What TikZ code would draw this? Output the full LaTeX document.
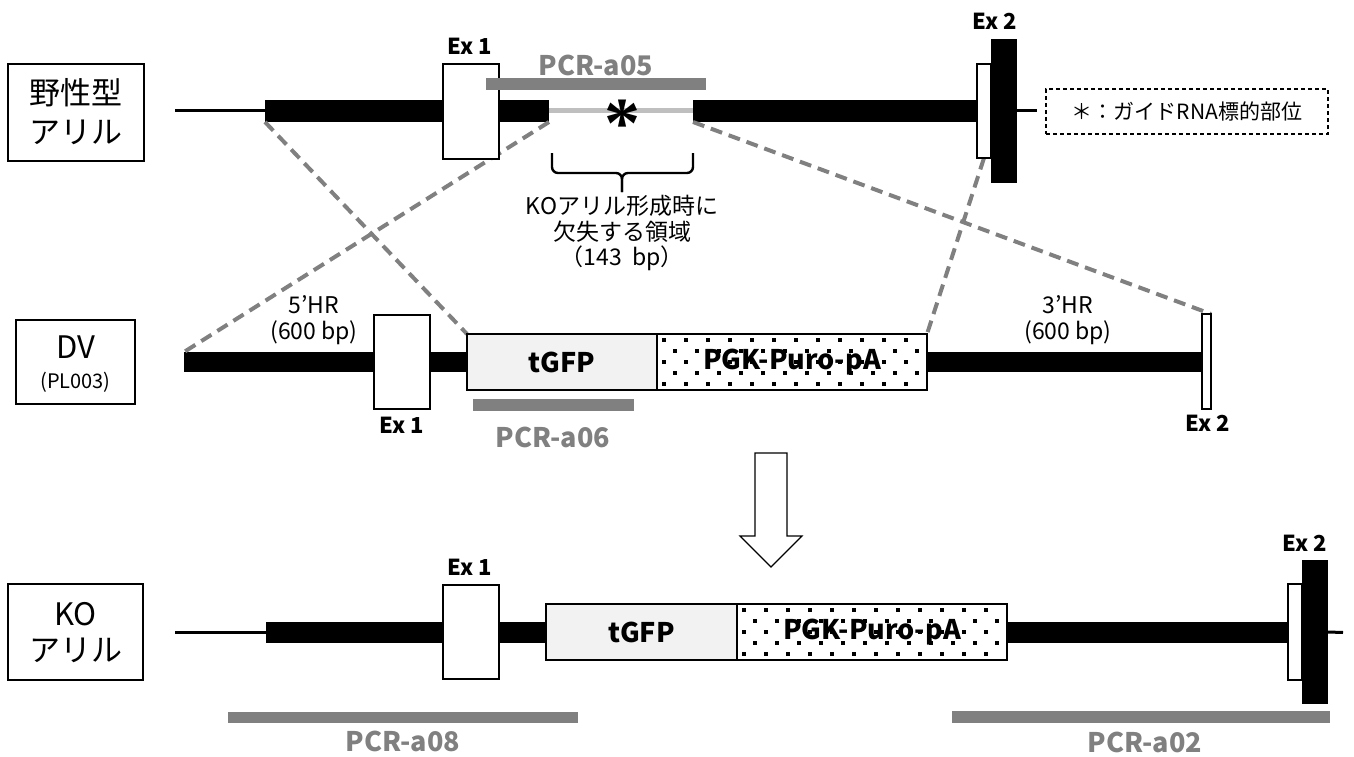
\documentclass[tikz,border=0pt]{standalone}
\usepackage{fontspec}
\setmainfont{Noto Sans CJK JP}
\newfontfamily\astfont{Liberation Serif}
\usetikzlibrary{fit}
\definecolor{pcrgray}{HTML}{808080}
\definecolor{delgray}{HTML}{BFBFBF}
\definecolor{gfpfill}{HTML}{F2F2F2}
\newcommand\dotgrid[4]{%
  \begin{scope}
    \clip (#1+2,#2+2) rectangle (#3-2,#4-2);
    \foreach \r in {0,...,4}{%
      \foreach \c in {0,...,13}{%
        \pgfmathsetmacro\xx{#1+7+\c*22+mod(\r,2)*11}%
        \pgfmathsetmacro\yy{#2+6+\r*11}%
        \fill (\xx-1.6,\yy-1.6) rectangle (\xx+1.6,\yy+1.6);
      }}
  \end{scope}}
\begin{document}
\begin{tikzpicture}[x=1pt,y=-1pt,
  box/.style={inner sep=0pt, outer sep=0pt},
  blk/.style={box, fill=black},
  exon/.style={box, fill=white, draw=black, line width=2.2pt},
  pcrbar/.style={box, fill=pcrgray},
  pcrlab/.style={text=pcrgray, font=\bfseries\fontsize{27}{30}\selectfont},
  exlab/.style={font=\bfseries\fontsize{22}{24}\selectfont},
  rowlab/.style={box, draw, line width=1.3pt},
  rowtxt/.style={font=\fontsize{31}{36}\selectfont},
  cassette/.style={box, draw=black, line width=2.4pt},
  casstxt/.style={font=\bfseries\fontsize{27}{30}\selectfont},
  homol/.style={font=\fontsize{23}{28}\selectfont},
  note/.style={font=\fontsize{23}{28}\selectfont},
  cutline/.style={draw=pcrgray, line width=4pt, dash pattern=on 12pt off 7pt},
  thinline/.style={line width=3pt},
]
\useasboundingbox (0,0) rectangle (1354,757);

% ---------------- wild-type allele ----------------
\node[rowlab, fit={(8,64) (144,161)}] (wtlab) {};
\node[rowtxt] (wtlab1) at (76,93) {野性型};
\node[rowtxt] (wtlab2) at (76,132) {アリル};
\coordinate (wtL) at (175,111);
\node[blk, fit={(265,100) (549,122)}] (wtbarA) {};
\node[blk, fit={(693,100) (977,122)}] (wtbarB) {};
\draw[thinline] (wtL) -- (wtbarA.west);
\draw[draw=delgray, line width=5pt] (wtbarA.east) -- (wtbarB.west);
\node[font=\astfont\bfseries\fontsize{72}{72}\selectfont] (ast) at (622,124) {*};

% ---------------- donor vector ----------------
\node[rowlab, fit={(16,320) (135,404)}] (dvlab) {};
\node[font=\fontsize{31}{34}\selectfont] (dvt) at (75.5,347) {DV};
\node[font=\fontsize{20}{24}\selectfont] (dvs) at (75.5,382) {(PL003)};
\node[blk, fit={(184,352) (1203,372)}] (dvbar) {};

% ---------------- dashed homology lines ----------------
\node[box, fit={(467,334) (657,390)}] (dvtgfpA) {};
\node[box, fit={(657,334) (927,390)}] (dvpgkA) {};
\node[box, fit={(1202,314) (1211,409)}] (dvex2A) {};
\node[box, fit={(977,64) (991,158)}] (wtex2wA) {};
\draw[cutline] (wtbarA.south west) -- (dvtgfpA.north west);
\draw[cutline] (wtbarA.south east) -- (dvbar.north west);
\draw[cutline] (wtbarB.south west) -- (dvex2A.north east);
\draw[cutline] (wtex2wA.south) -- (dvpgkA.north east);

% WT boxes
\node[exon, fit={(443,64) (499,159)}] (wtex1) {};
\node[exlab] (wtex1t) at (470,46) {Ex 1};
\node[exon, fit={(977,64) (991,158)}] (wtex2w) {};
\node[blk, fit={(991,39) (1017,183)}] (wtex2b) {};
\coordinate (wtR) at (1037,111);
\draw[thinline] (wtex2b.east) -- (wtR);
\node[exlab] (wtex2t) at (995,21) {Ex 2};
\node[pcrbar, fit={(486,78) (706,90)}] (pcr05) {};
\node[pcrlab] (pcr05t) at (596,65) {PCR-a05};
\node[box, draw, line width=1.5pt, dash pattern=on 4pt off 3pt, fit={(1046,89) (1328,134)}] (legend) {};
\node[font=\fontsize{21}{24}\selectfont] (legendt) at (legend.center) {＊：ガイドRNA標的部位};

% bracket
\draw[line width=2.4pt, rounded corners=6pt] (552,153) -- (552,173) -- (622,173) -- (622,192);
\draw[line width=2.4pt, rounded corners=6pt] (693,153) -- (693,173) -- (622,173) -- (622,192);
\node[note] (n1) at (622,206) {KOアリル形成時に};
\node[note] (n2) at (622,232) {欠失する領域};
\node[note] (n3) at (622,258) {（143\ \ bp）};

% DV boxes
\node[exon, fit={(374,315) (430,409)}] (dvex1) {};
\node[exlab] (dvex1t) at (402,425) {Ex 1};
\node[cassette, fill=gfpfill, fit={(467,334) (657,390)}] (dvtgfp) {};
\node[casstxt] at (dvtgfp.center) {tGFP};
\node[cassette, fill=white, fit={(657,334) (927,390)}] (dvpgk) {};
\dotgrid{657}{334}{927}{390}
\node[casstxt] at (dvpgk.center) {PGK-Puro-pA};
\node[exon, fit={(1202,314) (1211,409)}] (dvex2) {};
\node[exlab] (dvex2t) at (1208,423) {Ex 2};
\node[pcrbar, fit={(473,399) (634,411)}] (pcr06) {};
\node[pcrlab] (pcr06t) at (553,437) {PCR-a06};
\node[homol] (hr5a) at (314,305) {5’HR};
\node[homol] (hr5b) at (314,333) {(600 bp)};
\node[homol] (hr3a) at (1068,305) {3’HR};
\node[homol] (hr3b) at (1068,333) {(600 bp)};

% block arrow
\draw[fill=white, line width=1.2pt] (755,453) -- (787,453) -- (787,536) -- (802,536) -- (771,567)
  -- (740,536) -- (755,536) -- cycle;

% ---------------- KO allele ----------------
\node[rowlab, fit={(8,584) (143,680)}] (kolab) {};
\node[rowtxt] (kolab1) at (75.5,614) {KO};
\node[rowtxt] (kolab2) at (75.5,650) {アリル};
\coordinate (koL) at (175,632.5);
\node[blk, fit={(266,622) (1290,643)}] (kobar) {};
\draw[thinline] (koL) -- (kobar.west);
\node[exon, fit={(443,585) (499,679)}] (koex1) {};
\node[exlab] (koex1t) at (470,567) {Ex 1};
\node[cassette, fill=gfpfill, fit={(546,604) (737,660)}] (kotgfp) {};
\node[casstxt] at (kotgfp.center) {tGFP};
\node[cassette, fill=white, fit={(737,604) (1007,660)}] (kopgk) {};
\dotgrid{737}{604}{1007}{660}
\node[casstxt] at (kopgk.center) {PGK-Puro-pA};
\node[exon, fit={(1288,584) (1302,680)}] (koex2w) {};
\node[blk, fit={(1302,560) (1328,704)}] (koex2b) {};
\coordinate (koR) at (1343,632.5);
\draw[thinline] (koex2b.east) -- (koR);
\node[exlab] (koex2t) at (1305,543) {Ex 2};
\node[pcrbar, fit={(228,712) (578,723)}] (pcr08) {};
\node[pcrlab] (pcr08t) at (403,741) {PCR-a08};
\node[pcrbar, fit={(952,711) (1330,723)}] (pcr02) {};
\node[pcrlab] (pcr02t) at (1145,742) {PCR-a02};
\end{tikzpicture}
\end{document}
